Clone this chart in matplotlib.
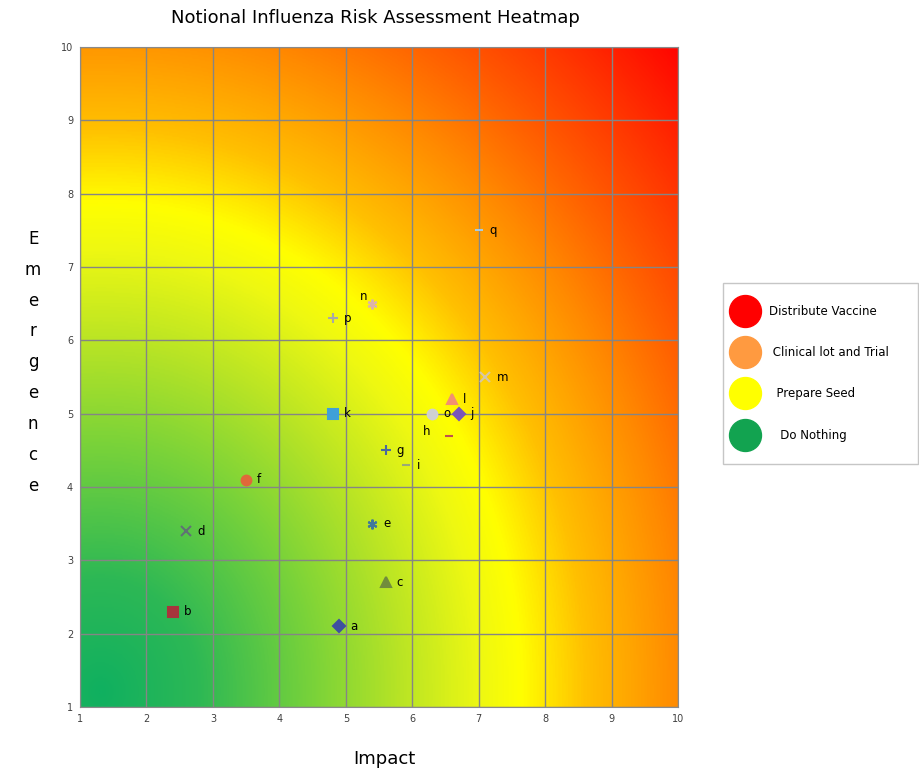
import numpy as np
import matplotlib
matplotlib.use("Agg")
import matplotlib.pyplot as plt
from matplotlib.colors import LinearSegmentedColormap
from matplotlib.lines import Line2D

labels = ["a", "b", "c", "d", "e", "f", "g", "h", "i", "j", "k", "l", "m", "n", "o", "p", "q"]
impact = [4.9, 2.4, 5.6, 2.6, 5.4, 3.5, 5.6, 6.55, 5.9, 6.7, 4.8, 6.6, 7.1, 5.4, 6.3, 4.8, 7.0]
emergence = [2.1, 2.3, 2.7, 3.4, 3.5, 4.1, 4.5, 4.7, 4.3, 5.0, 5.0, 5.2, 5.5, 6.5, 5.0, 6.3, 7.5]
markers = ["D", "s", "^", "x", (6, 2, 0), "o", "+", "_", "_", "D", "s", "^", "x", (6, 2, 0), "o", "+", "_"]
colors = ["#3f4fa0", "#a8343c", "#718c3c", "#5f7374", "#40789a", "#e0683a", "#4a6a9c", "#c0504d",
          "#9aa878", "#7a55b8", "#3fa0d8", "#f29070", "#d6c6a6", "#dcb4a8", "#cfd0d0", "#a8a8a8", "#a8cce4"]
legend_labels = ["Distribute Vaccine", " Clinical lot and Trial", "  Prepare Seed", "   Do Nothing"]
legend_colors = ["#ff0000", "#ff9a40", "#ffff00", "#12a350"]

fig = plt.figure(figsize=(9.2, 7.71), dpi=100)
ax = fig.add_axes([0.087, 0.083, 0.650, 0.856])

# background gradient (distance from lower-left corner, data units)
xs = np.linspace(1, 10, 500)
ys = np.linspace(1, 10, 500)
X, Y = np.meshgrid(xs, ys)
R = np.sqrt((X - 1.3) ** 2 + ((Y - 1.2) * 0.95) ** 2)
cmap = LinearSegmentedColormap.from_list("risk", [
    (0.0, "#10b060"), (0.12, "#2db855"), (0.26, "#78d23a"), (0.37, "#b8e425"),
    (0.47, "#eef812"), (0.52, "#ffff00"), (0.60, "#ffc000"), (0.71, "#ff8c00"),
    (0.81, "#ff5a00"), (0.90, "#ff3000"), (1.0, "#ff0000")])
ax.imshow(R / 12.2, extent=[1, 10, 1, 10], origin="lower", cmap=cmap, vmin=0, vmax=1,
          aspect="auto", interpolation="bilinear", zorder=0)

ax.set_xlim(1, 10)
ax.set_ylim(1, 10)
ax.set_xticks(range(1, 11))
ax.set_yticks(range(1, 11))
ax.tick_params(labelsize=7, length=0, pad=5, labelcolor="#404040")
ax.grid(True, color="#858585", linewidth=1.0, zorder=1)
for s in ax.spines.values():
    s.set_color("#8a8a8a")

for lab, x, y, m, c in zip(labels, impact, emergence, markers, colors):
    ms = 7
    if m == "D":
        ms = 6
    elif m == "_":
        ms = 6
    ax.plot([x], [y], marker=m, color=c, markersize=ms, markeredgewidth=1.5,
            linestyle="none", zorder=3)
    if lab == "h":
        ax.annotate(lab, (x, y), xytext=(-16, 3), textcoords="offset points",
                    fontsize=8.5, va="center", ha="center", zorder=4)
    elif lab == "n":
        ax.annotate(lab, (x, y), xytext=(-6, 5), textcoords="offset points",
                    fontsize=8.5, va="center", ha="center", zorder=4)
    else:
        ax.annotate(lab, (x, y), xytext=(8, 0), textcoords="offset points",
                    fontsize=8.5, va="center", zorder=4)

fig.text(0.408, 0.977, "Notional Influenza Risk Assessment Heatmap", ha="center", va="center",
         fontsize=13)
fig.text(0.418, 0.015, "Impact", ha="center", va="center", fontsize=13)
fig.text(0.036, 0.530, "\n".join("Emergence"), ha="center", va="center", fontsize=12,
         linespacing=1.92)

handles = [Line2D([0], [0], marker="o", color="none", markerfacecolor=c, markeredgecolor=c,
                  markersize=23) for c in legend_colors]
leg = fig.legend(handles, legend_labels, loc="upper left",
                 bbox_to_anchor=(0.786, 0.401, 0.212, 0.232), mode="expand",
                 fontsize=8.5, frameon=True, fancybox=False, edgecolor="#b8b8b8",
                 labelspacing=2.4, handletextpad=2.0, borderpad=1.85, handlelength=0.0,
                 borderaxespad=0)

fig.savefig("out.png", dpi=100)
